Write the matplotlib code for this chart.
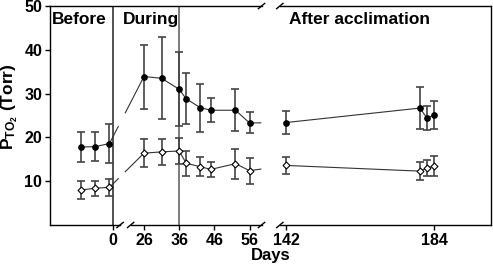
import numpy as np
import matplotlib
matplotlib.use('Agg')
import matplotlib.pyplot as plt

plt.rcParams['font.family'] = ['Liberation Sans', 'DejaVu Sans']
plt.rcParams['font.weight'] = 'bold'
plt.rcParams['mathtext.fontset'] = 'custom'
plt.rcParams['mathtext.rm'] = 'Liberation Sans:bold'
plt.rcParams['mathtext.default'] = 'rm'

# days of measurement
before_days = [-9, -5, -1]
during_days = [26, 31, 36, 38, 42, 45, 52, 56]
after_days = [142, 180, 182, 184]

# filled symbols
filled_before = [17.8, 17.9, 18.6]
filled_before_err = [3.5, 3.3, 4.5]
filled_during = [33.9, 33.5, 31.0, 28.8, 26.8, 26.2, 26.2, 23.3]
filled_during_err = [7.3, 9.4, 8.4, 5.8, 5.5, 2.7, 4.8, 2.4]
filled_after = [23.4, 26.7, 24.4, 25.1]
filled_after_err = [2.6, 4.8, 2.7, 3.2]

# open symbols
open_before = [8.0, 8.4, 8.6]
open_before_err = [2.1, 1.7, 2.0]
open_during = [16.4, 16.7, 16.9, 14.1, 13.3, 12.7, 14.0, 12.4]
open_during_err = [3.2, 2.9, 3.0, 2.8, 2.2, 1.7, 3.4, 3.0]
open_after = [13.6, 12.3, 13.0, 13.5]
open_after_err = [1.9, 2.0, 1.9, 2.3]

tick_days = [0, 26, 36, 46, 56, 142, 184]
phase_lines = [0, 36]


def to_x(d):
    # broken axis: squeeze out 0-26 and 56-142
    d = np.asarray(d, dtype=float)
    return np.where(d <= 0, d, np.where(d <= 60, d - 17.2, d - 92.8))


fig = plt.figure(figsize=(4.93, 2.69), dpi=100)
ax = fig.add_axes([0.1014, 0.1636, 0.8946, 0.8140])
ax.set_xlim(-17.9, 107.4)
ax.set_ylim(0, 50)

lc = '#333333'
ec = '#444444'

for xv in phase_lines:
    ax.axvline(to_x(xv), color='#333333' if xv == 0 else '#666666', lw=1.2, zorder=1)


def draw_series(b, be, d, de, a, ae, marker, face, ms):
    xb, xd, xa = to_x(before_days), to_x(during_days), to_x(after_days)
    for xs, ys, es in ((xb, b, be), (xd, d, de), (xa, a, ae)):
        ax.errorbar(xs, ys, yerr=es, fmt='none', ecolor=ec, elinewidth=1.2,
                    capsize=3.2, capthick=1.2, zorder=2)
        ax.plot(xs, ys, color=lc, lw=0.8, zorder=3)
        ax.plot(xs, ys, ls='none', marker=marker, mfc=face, mec='black',
                mew=0.8, ms=ms, zorder=4)
    # broken joins across the axis breaks
    x0, x1 = xb[-1], xd[0]
    y0, y1 = b[-1], d[0]
    ax.plot([x0, 1.5], [y0, np.interp(1.5, [x0, x1], [y0, y1])], color=lc, lw=0.8, zorder=3)
    ax.plot([3.5, x1], [np.interp(3.5, [x0, x1], [y0, y1]), y1], color=lc, lw=0.8, zorder=3)
    x0, x1 = xd[-1], xa[0]
    y0, y1 = d[-1], a[0]
    ax.plot([x0, 42.0], [y0, np.interp(42.0, [x0, x1], [y0, y1])], color=lc, lw=0.8, zorder=3)


draw_series(filled_before, filled_before_err, filled_during, filled_during_err,
            filled_after, filled_after_err, 'o', 'black', 4.0)
draw_series(open_before, open_before_err, open_during, open_during_err,
            open_after, open_after_err, 'D', 'white', 3.5)

# spines with gaps at the breaks
ax.spines['top'].set_visible(False)
ax.spines['bottom'].set_visible(False)
trans = ax.get_xaxis_transform()
xl, xr = ax.get_xlim()
for y, gaps in ((0, [(2.0, 5.0), (42.2, 47.4)]), (1, [(42.2, 47.4)])):
    edges = [xl] + [g for pair in gaps for g in pair] + [xr]
    for i in range(0, len(edges), 2):
        ax.plot([edges[i], edges[i + 1]], [y, y], color='black', lw=1.0,
                transform=trans, clip_on=False, zorder=5)
    for g in gaps:
        for gx in g:
            ax.plot([gx - 0.9, gx + 0.9], [y - 0.012, y + 0.012], color='black',
                    lw=1.0, transform=trans, clip_on=False, zorder=5)
for s in ('left', 'right'):
    ax.spines[s].set_linewidth(1.0)

ax.set_xticks(to_x(tick_days))
ax.set_xticklabels([str(d) for d in tick_days])
ax.set_yticks([10, 20, 30, 40, 50])
ax.tick_params(axis='both', direction='out', length=3.5, width=1.0, labelsize=11.5, pad=2)
for lab in ax.get_xticklabels() + ax.get_yticklabels():
    lab.set_fontweight('bold')

ax.set_xlabel('Days', fontsize=12, fontweight='bold', labelpad=0)
fig.text(0.02, 0.605, r'$\mathrm{P_{TO_2}}$ (Torr)', rotation=90, ha='center', va='center',
         fontsize=12.5, fontweight='bold')

ax.text(0.005, 0.94, 'Before', transform=ax.transAxes, fontsize=12.5, fontweight='bold', va='center')
ax.text(0.165, 0.94, 'During', transform=ax.transAxes, fontsize=12.5, fontweight='bold', va='center')
ax.text(0.543, 0.94, 'After acclimation', transform=ax.transAxes, fontsize=12.5,
        fontweight='bold', va='center')

fig.savefig('out.png', dpi=100)
